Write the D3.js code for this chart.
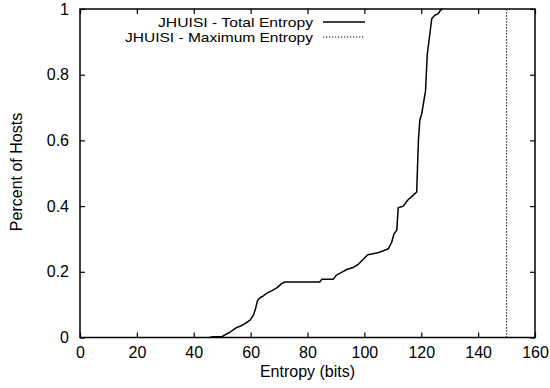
<!DOCTYPE html>
<html><head><meta charset="utf-8">
<script src="https://cdn.jsdelivr.net/npm/d3@7"></script>
<style>body{margin:0;background:#fff}svg text{font-family:"Liberation Sans",Arial,Helvetica,sans-serif;fill:#000}</style>
</head><body><svg id="c" width="550" height="388"></svg>
<script>
const xTicks = [0,20,40,60,80,100,120,140,160];
const yTicks = [0,0.2,0.4,0.6,0.8,1];
const yTickLabels = ["0","0.2","0.4","0.6","0.8","1"];
const entropyBits = [45.5,47,50,51,52.7,55,56.5,58,59.8,61,61.8,62.4,63.3,64.5,65.7,67.4,69.2,70.9,72,84.3,85,89,90.2,92,93.8,96,97.9,99.6,101.2,103.1,105,106.7,108.4,109.6,110.4,111.4,111.9,113.7,115.2,117,118.4,119,119.5,120.2,121,121.5,122.1,123.7,124.8,126,126.8,127.5];
const percentHosts = [0,0.002,0.003,0.008,0.016,0.03,0.035,0.042,0.053,0.068,0.09,0.112,0.121,0.127,0.135,0.142,0.151,0.164,0.169,0.169,0.177,0.177,0.19,0.198,0.207,0.213,0.223,0.238,0.252,0.255,0.259,0.264,0.27,0.29,0.315,0.327,0.395,0.4,0.418,0.432,0.443,0.6,0.662,0.682,0.725,0.75,0.86,0.971,0.981,0.986,0.997,1];
const maxEntropy = [150];
const legendLabels = ["JHUISI - Total Entropy","JHUISI - Maximum Entropy"];

const svg = d3.select("#c");
const L=80,R=535,T=9,B=337.5;
const x = d3.scaleLinear().domain([0,160]).range([L,R]);
const y = d3.scaleLinear().domain([0,1]).range([B,T]);
const fs = 16;

const g = svg.append("g");
g.append("g").attr("transform",`translate(0,${B})`)
 .call(d3.axisBottom(x).tickValues(xTicks).tickSize(-5).tickPadding(9).tickFormat(d3.format("d")))
 .call(a=>{a.select(".domain").remove();a.selectAll("text").style("font-size",fs+"px").attr("dy","0.71em");});
g.append("g").attr("transform",`translate(0,${T})`)
 .call(d3.axisTop(x).tickValues(xTicks).tickSize(-5).tickFormat(""))
 .call(a=>a.select(".domain").remove());
g.append("g").attr("transform",`translate(${L},0)`)
 .call(d3.axisLeft(y).tickValues(yTicks).tickSize(-5).tickPadding(11).tickFormat((d,i)=>yTickLabels[i]))
 .call(a=>{a.select(".domain").remove();a.selectAll("text").style("font-size",fs+"px");});
g.append("g").attr("transform",`translate(${R},0)`)
 .call(d3.axisRight(y).tickValues(yTicks).tickSize(-5).tickFormat(""))
 .call(a=>a.select(".domain").remove());
g.selectAll(".tick line").attr("stroke","#000").attr("stroke-width",1.2);
g.selectAll(".tick text").attr("font-family",null);

svg.selectAll(".maxl").data(maxEntropy).enter().append("line")
 .attr("x1",d=>x(d)).attr("x2",d=>x(d)).attr("y1",y(0)).attr("y2",y(1))
 .attr("stroke","#000").attr("stroke-width",1.2).attr("stroke-dasharray","1.2,1.8");

const pts = entropyBits.map((v,i)=>[v,percentHosts[i]]);
svg.append("path").datum(pts)
 .attr("d",d3.line().x(d=>x(d[0])).y(d=>y(d[1])))
 .attr("fill","none").attr("stroke","#000").attr("stroke-width",1.5).attr("stroke-linejoin","round");

svg.append("rect").attr("x",L).attr("y",T).attr("width",R-L).attr("height",B-T)
 .attr("fill","none").attr("stroke","#000").attr("stroke-width",1.5);

const lg = svg.append("g");
legendLabels.forEach((t,i)=>{
  const by = 27 + i*15;
  lg.append("text").attr("x",313).attr("y",by).attr("text-anchor","end").style("font-size","13.5px")
    .attr("textLength", i===0?155:188).attr("lengthAdjust","spacingAndGlyphs").text(t);
  lg.append("line").attr("x1",323).attr("x2",365).attr("y1",by-5).attr("y2",by-5)
    .attr("stroke","#000").attr("stroke-width",i===0?1.5:1.2).attr("stroke-dasharray",i===0?null:"1.2,1.8");
});

svg.append("text").attr("x",(L+R)/2).attr("y",377).attr("text-anchor","middle").style("font-size",fs+"px").text("Entropy (bits)");
svg.append("text").attr("transform","translate(22,172) rotate(-90)").attr("text-anchor","middle").style("font-size",fs+"px").text("Percent of Hosts");
</script></body></html>
